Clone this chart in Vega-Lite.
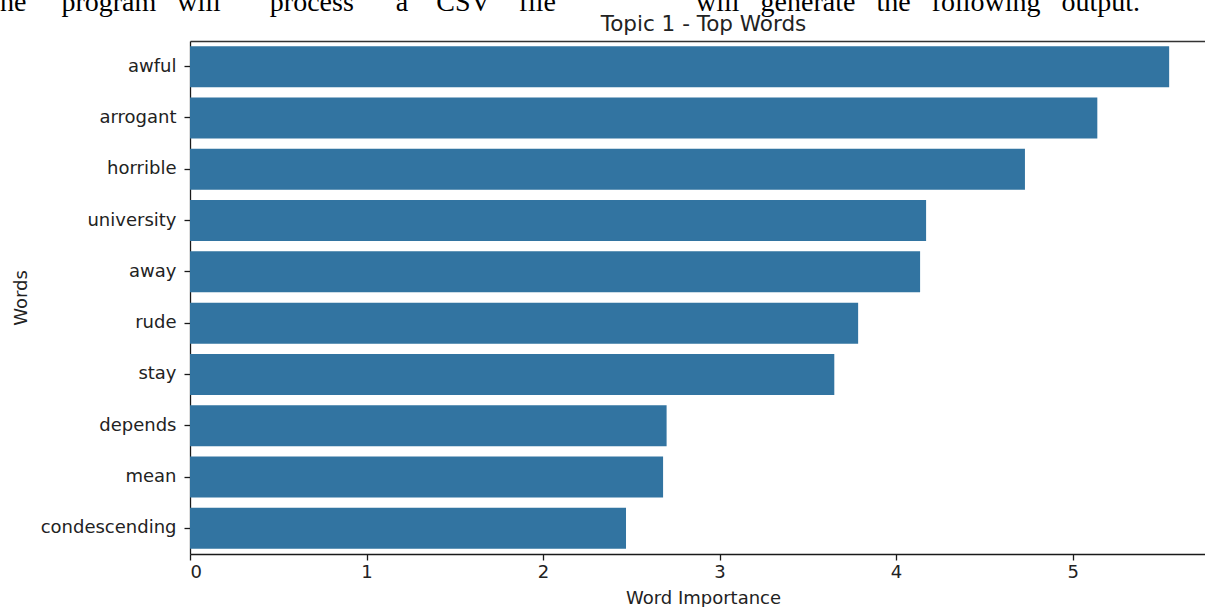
{
  "$schema": "https://vega.github.io/schema/vega-lite/v6.json",
  "width": 1015,
  "height": 513,
  "autosize": "none",
  "padding": {"left": 190, "top": 41, "right": 0, "bottom": 53},
  "background": "white",
  "title": {
    "text": "he\u00a0\u00a0\u00a0\u00a0\u00a0program\u00a0\u00a0\u00a0will\u00a0\u00a0\u00a0\u00a0\u00a0\u00a0\u00a0process\u00a0\u00a0\u00a0\u00a0\u00a0\u00a0a\u00a0\u00a0\u00a0\u00a0CSV\u00a0\u00a0\u00a0\u00a0file\u00a0\u00a0\u00a0\u00a0\u00a0\u00a0\u00a0\u00a0\u00a0\u00a0\u00a0\u00a0\u00a0\u00a0\u00a0\u00a0\u00a0\u00a0\u00a0\u00a0will\u00a0\u00a0\u00a0generate\u00a0\u00a0\u00a0the\u00a0\u00a0\u00a0following\u00a0\u00a0\u00a0output.",
    "anchor": "start",
    "frame": "group",
    "dx": -190,
    "offset": -4,
    "font": "Liberation Serif",
    "fontSize": 28,
    "fontWeight": "normal",
    "color": "black"
  },
  "config": {
    "view": {"stroke": null},
    "axis": {
      "grid": false,
      "domainColor": "#1a1a1a",
      "domainWidth": 1.3,
      "tickColor": "#1a1a1a",
      "tickWidth": 1.3,
      "tickSize": 6,
      "labelFont": "DejaVu Sans",
      "labelFontSize": 18,
      "labelColor": "#222222",
      "titleFont": "DejaVu Sans",
      "titleFontSize": 18,
      "titleFontWeight": "normal",
      "titleColor": "#222222"
    }
  },
  "data": {
    "values": [
      {"word": "awful", "importance": 5.547},
      {"word": "arrogant", "importance": 5.14},
      {"word": "horrible", "importance": 4.73},
      {"word": "university", "importance": 4.17},
      {"word": "away", "importance": 4.136},
      {"word": "rude", "importance": 3.785},
      {"word": "stay", "importance": 3.65},
      {"word": "depends", "importance": 2.70},
      {"word": "mean", "importance": 2.68},
      {"word": "condescending", "importance": 2.47}
    ]
  },
  "layer": [
    {
      "mark": {"type": "bar", "color": "#3274a1"},
      "encoding": {
        "y": {
          "field": "word",
          "type": "nominal",
          "sort": null,
          "scale": {"paddingInner": 0.2, "paddingOuter": 0.1},
          "axis": {"title": "Words", "labelPadding": 8, "titlePadding": 10, "domain": true}
        },
        "x": {
          "field": "importance",
          "type": "quantitative",
          "scale": {"domain": [0, 5.75], "nice": false, "zero": true},
          "axis": {
            "orient": "bottom",
            "title": "Word Importance",
            "values": [0, 1, 2, 3, 4, 5],
            "format": "d",
            "labelPadding": 3,
            "titlePadding": 8,
            "titleX": 513
          }
        }
      }
    },
    {
      "mark": {"type": "bar", "opacity": 0},
      "encoding": {
        "y": {
          "field": "word",
          "type": "nominal",
          "sort": null,
          "scale": {"paddingInner": 0.2, "paddingOuter": 0.1},
          "axis": {"title": "Words", "labelPadding": 8, "titlePadding": 10, "domain": true}
        },
        "x": {
          "field": "importance",
          "type": "quantitative",
          "scale": {"domain": [0, 5.75], "nice": false, "zero": true},
          "axis": {
            "orient": "top",
            "title": "Topic 1 - Top Words",
            "titleFontSize": 21.5,
            "titlePadding": 6,
            "titleX": 513,
            "labels": false,
            "ticks": false,
            "domainColor": "#333333"
          }
        }
      }
    }
  ],
  "resolve": {"scale": {"x": "independent"}, "axis": {"x": "independent"}}
}
